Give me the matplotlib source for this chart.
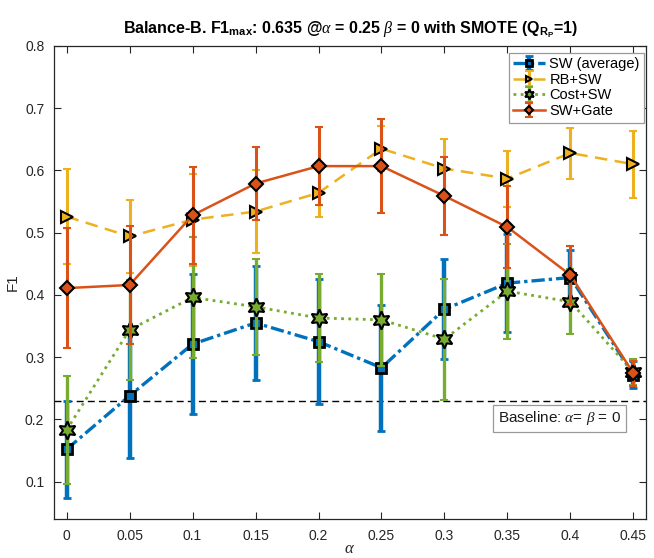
import matplotlib
matplotlib.use("Agg")
import matplotlib.pyplot as plt
import numpy as np

plt.rcParams['font.family'] = ['Liberation Sans', 'DejaVu Sans']
plt.rcParams['mathtext.fontset'] = 'custom'
plt.rcParams['mathtext.rm'] = 'Liberation Sans'
plt.rcParams['mathtext.bf'] = 'Liberation Sans:bold'
plt.rcParams['mathtext.it'] = 'Liberation Serif:italic'

# alpha sweep and F1 (mean, std) for each method
alpha = [0, 0.05, 0.1, 0.15, 0.2, 0.25, 0.3, 0.35, 0.4, 0.45]
alpha_labels = ['0', '0.05', '0.1', '0.15', '0.2', '0.25', '0.3', '0.35', '0.4', '0.45']

sw_mean = [0.152, 0.238, 0.321, 0.355, 0.325, 0.283, 0.377, 0.419, 0.428, 0.272]
sw_err = [0.078, 0.100, 0.112, 0.092, 0.100, 0.101, 0.080, 0.079, 0.045, 0.022]

rb_mean = [0.526, 0.494, 0.521, 0.534, 0.564, 0.635, 0.603, 0.587, 0.628, 0.610]
rb_err = [0.077, 0.058, 0.074, 0.066, 0.038, 0.036, 0.048, 0.045, 0.041, 0.054]

cost_mean = [0.183, 0.344, 0.396, 0.381, 0.363, 0.360, 0.329, 0.406, 0.389, 0.276]
cost_err = [0.087, 0.080, 0.097, 0.077, 0.070, 0.074, 0.097, 0.076, 0.052, 0.021]

gate_mean = [0.411, 0.416, 0.528, 0.579, 0.607, 0.607, 0.559, 0.509, 0.432, 0.274]
gate_err = [0.097, 0.095, 0.078, 0.058, 0.063, 0.076, 0.063, 0.066, 0.047, 0.020]

baseline = 0.229

yticks = [0.1, 0.2, 0.3, 0.4, 0.5, 0.6, 0.7, 0.8]

BLUE = '#0072BD'
YELLOW = '#EDB120'
GREEN = '#77AC30'
ORANGE = '#D95319'

fig = plt.figure(figsize=(6.54, 5.58), dpi=100)
ax = fig.add_axes([54 / 654, 39 / 558, 592 / 654, 473 / 558])

star6 = (6, 1, 0)

ax.errorbar(alpha, sw_mean, yerr=sw_err, color=BLUE, ecolor=BLUE,
            linestyle=(0, (4, 1.2, 1, 1.2)), linewidth=2.4, elinewidth=3.2,
            capsize=3, capthick=3, marker='s', markersize=7.5,
            markerfacecolor=BLUE, markeredgecolor='k', markeredgewidth=2,
            label='SW (average)', zorder=2)
ax.errorbar(alpha, rb_mean, yerr=rb_err, color=YELLOW, ecolor=YELLOW,
            linestyle=(0, (5, 3)), linewidth=1.8, elinewidth=2.2,
            capsize=3, capthick=2.5, marker='>', markersize=9,
            markerfacecolor=YELLOW, markeredgecolor='k', markeredgewidth=1.5,
            label='RB+SW', zorder=3)
ax.errorbar(alpha, cost_mean, yerr=cost_err, color=GREEN, ecolor=GREEN,
            linestyle=(0, (1, 1.6)), linewidth=2.0, elinewidth=2.4,
            capsize=3, capthick=2.5, marker=star6, markersize=13,
            markerfacecolor=GREEN, markeredgecolor='k', markeredgewidth=1.5,
            label='Cost+SW', zorder=4)
ax.errorbar(alpha, gate_mean, yerr=gate_err, color=ORANGE, ecolor=ORANGE,
            linestyle='-', linewidth=1.8, elinewidth=2.2,
            capsize=3, capthick=2.5, marker='D', markersize=7.5,
            markerfacecolor=ORANGE, markeredgecolor='k', markeredgewidth=1.5,
            label='SW+Gate', zorder=5)

ax.axhline(baseline, color='k', linestyle=(0, (5, 3)), linewidth=1.0, zorder=1)
ax.text(0.3425, 0.2015, r'Baseline: $\alpha$= $\beta$ = 0', fontsize=11,
        ha='left', va='center', color='0.1',
        bbox=dict(boxstyle='square,pad=0.3', facecolor='white',
                  edgecolor='0.6', linewidth=0.9), zorder=6)

ax.set_xlim(-0.01, 0.46)
ax.set_ylim(0.04, 0.8)
ax.set_xticks(alpha)
ax.set_xticklabels(alpha_labels)
ax.set_yticks(yticks)
ax.set_yticklabels([f'{v:g}' for v in yticks])
ax.tick_params(direction='in', top=True, right=True, length=5, width=0.8,
               labelsize=10, colors='0.15', pad=7)
for sp in ax.spines.values():
    sp.set_color('0.15')
    sp.set_linewidth(0.9)

ax.set_ylabel('F1', fontsize=11, color='0.15', labelpad=4)
ax.set_xlabel(r'$\alpha$', fontsize=12, color='0.15', labelpad=-1)
ax.set_title(r'Balance-B. F1$_{\mathbf{max}}$: 0.635 @$\alpha$ = 0.25 $\beta$ = 0 '
             r'with SMOTE (Q$_{\mathbf{R}_{\mathbf{P}}}$=1)',
             fontsize=11.5, fontweight='bold', pad=9)

leg = ax.legend(loc='upper right', bbox_to_anchor=(0.997, 0.986),
                borderaxespad=0, fontsize=10.5, markerscale=0.55,
                handlelength=2.2, handletextpad=0.3, labelspacing=0.12,
                borderpad=0.3, fancybox=False, framealpha=1)
leg.get_frame().set_edgecolor('0.6')
leg.get_frame().set_linewidth(0.9)

fig.savefig('out.png', dpi=100)
